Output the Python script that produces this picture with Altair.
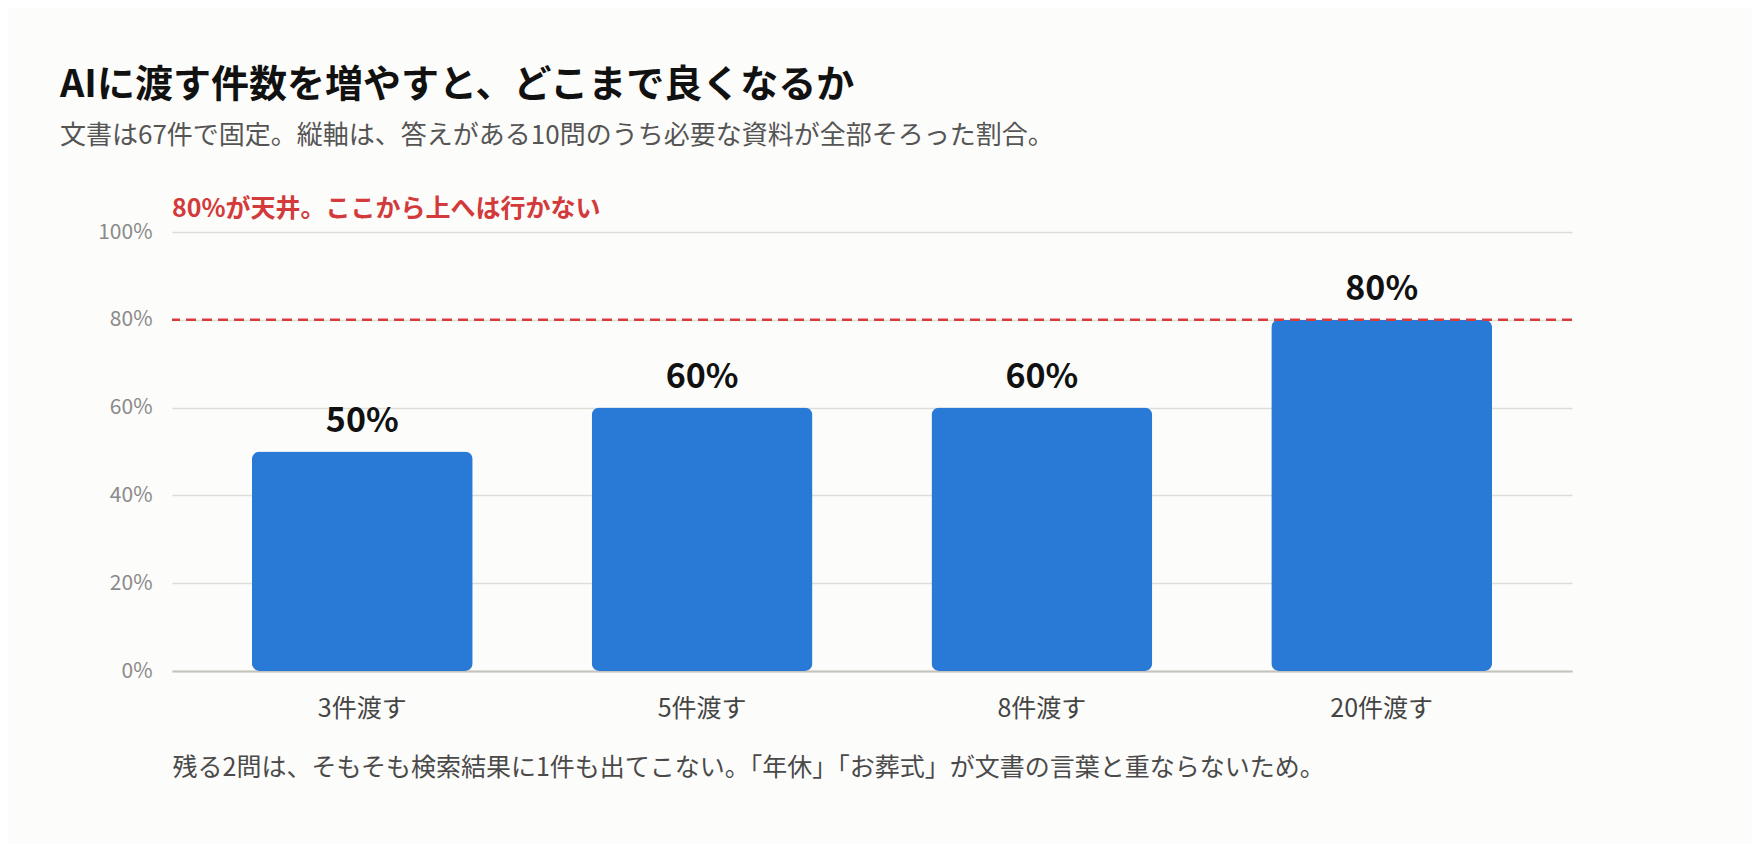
import altair as alt
import pandas as pd

categories = ["3件渡す", "5件渡す", "8件渡す", "20件渡す"]
values = [0.5, 0.6, 0.6, 0.8]
ceiling = 0.8

title_text = "AIに渡す件数を増やすと、どこまで良くなるか"
subtitle_text = "文書は67件で固定。縦軸は、答えがある10問のうち必要な資料が全部そろった割合。"
ceiling_note = "80%が天井。ここから上へは行かない"
footer_text = "残る2問は、そもそも検索結果に1件も出てこない。「年休」「お葬式」が文書の言葉と重ならないため。"

FONT = "Noto Sans CJK JP"
df = pd.DataFrame({"category": categories, "value": values})

x_enc = alt.X(
    "category:N",
    sort=categories,
    scale=alt.Scale(paddingInner=0.35, paddingOuter=0.235),
    axis=alt.Axis(
        title=footer_text,
        titleAnchor="start",
        titleAlign="left",
        titleFontSize=25,
        titleFontWeight="normal",
        titleColor="#4a4a4a",
        titleFont=FONT,
        titlePadding=34,
        labelAngle=0,
        labelFontSize=25,
        labelColor="#444444",
        labelFont=FONT,
        labelPadding=25,
        ticks=False,
        domainColor="#c4c4bc",
        domainWidth=2,
        grid=False,
    ),
)
y_enc = alt.Y(
    "value:Q",
    scale=alt.Scale(domain=[0, 1]),
    axis=alt.Axis(
        title=None,
        values=[0, 0.2, 0.4, 0.6, 0.8, 1.0],
        format=".0%",
        labelFontSize=21,
        labelColor="#8a8a8a",
        labelFont=FONT,
        labelPadding=20,
        ticks=False,
        domain=False,
        gridColor="#deded9",
        gridWidth=1.5,
    ),
)

base = alt.Chart(df)

bars = base.mark_bar(color="#2979d6", cornerRadius=8).encode(x=x_enc, y=y_enc)

labels = base.mark_text(
    font=FONT, fontSize=34, fontWeight="bold", color="#111111", dy=-20, baseline="alphabetic"
).encode(x=alt.X("category:N", sort=categories), y="value:Q", text=alt.Text("value:Q", format=".0%"))

rule = alt.Chart(pd.DataFrame({"ceiling": [ceiling]})).mark_rule(
    color="#d63b3e", strokeDash=[10, 6], strokeWidth=2.5
).encode(y="ceiling:Q")

note = alt.Chart(pd.DataFrame({"t": [ceiling_note]})).mark_text(
    font=FONT, fontSize=25, fontWeight="bold", color="#d23a3c", align="left", baseline="alphabetic"
).encode(x=alt.value(0), y=alt.value(-15), text="t:N")

chart = (
    alt.layer(bars, rule, labels, note)
    .properties(
        width=1400,
        height=439,
        background="#fcfcfa",
        padding={"left": 164, "top": 224, "right": 180, "bottom": 173},
        autosize=alt.AutoSizeParams(type="none"),
        title=alt.TitleParams(
            text=title_text,
            subtitle=subtitle_text,
            anchor="start",
            frame="group",
            dx=-112,
            offset=48,
            font=FONT,
            fontSize=38,
            fontWeight="bold",
            color="#111111",
            subtitleFont=FONT,
            subtitleFontSize=26,
            subtitleColor="#555555",
            subtitlePadding=18,
        ),
    )
    .configure_view(stroke=None)
)

chart.save("out.html", embed_options={"renderer": "svg", "actions": False})
